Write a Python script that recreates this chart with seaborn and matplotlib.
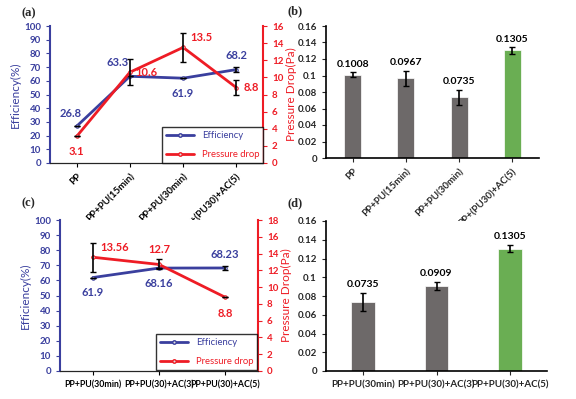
import numpy as np
import pandas as pd
import matplotlib
matplotlib.use("Agg")
import matplotlib.pyplot as plt
import seaborn as sns
from matplotlib.lines import Line2D

# ---- data ----
cats_a = ["PP", "PP+PU(15min)", "PP+PU(30min)", "PP+(PU30)+AC(5)"]
eff_a = [26.8, 63.3, 61.9, 68.2]
eff_err_a = [0.0, 0.0, 0.0, 1.8]
dp_a = [3.1, 10.6, 13.5, 8.8]
dp_err_a = [0.0, 1.5, 1.7, 0.9]

cats_b = ["PP", "PP+PU(15min)", "PP+PU(30min)", "PP+(PU30)+AC(5)"]
val_b = [0.1008, 0.0967, 0.0735, 0.1305]
err_b = [0.003, 0.009, 0.0095, 0.004]

cats_c = ["PP+PU(30min)", "PP+PU(30)+AC(3)", "PP+PU(30)+AC(5)"]
eff_c = [61.9, 68.16, 68.23]
eff_err_c = [0.0, 0.0, 1.5]
dp_c = [13.56, 12.7, 8.8]
dp_err_c = [1.7, 0.6, 0.0]

cats_d = ["PP+PU(30min)", "PP+PU(30)+AC(3)", "PP+PU(30)+AC(5)"]
val_d = [0.0735, 0.0909, 0.1305]
err_d = [0.0095, 0.004, 0.004]

BLUE = "#3a3f9e"
RED = "#ee1c25"
GRAY = "#6e6868"
GREEN = "#62bd44"

sns.set_style("white")
plt.rcParams["font.family"] = ["Lato", "DejaVu Sans"]
plt.rcParams["font.weight"] = "bold"

W, H = 576, 399
fig = plt.figure(figsize=(W / 100, H / 100), dpi=100)


def box(l, t, r, b):
    return [l / W, 1 - b / H, (r - l) / W, (b - t) / H]


def line_panel(ax, cats, eff, eff_err, dp, dp_err, dp_max, eff_lbl, dp_lbl, rotate, legend_box):
    x = np.arange(len(cats))
    ax2 = ax.twinx()
    sns.lineplot(x=x, y=eff, ax=ax, color=BLUE, lw=2, marker="o", ms=2.5,
                 mfc="#dddddd", mec=BLUE, zorder=3)
    sns.lineplot(x=x, y=dp, ax=ax2, color=RED, lw=2, marker="o", ms=2.5,
                 mfc="#dddddd", mec=RED, zorder=3)
    ax.errorbar(x, eff, yerr=eff_err, fmt="none", ecolor="black", capsize=2.5, lw=1.2, zorder=4)
    ax2.errorbar(x, dp, yerr=dp_err, fmt="none", ecolor="black", capsize=2.5, lw=1.2, zorder=4)

    ax.set_xlim(-0.5, len(cats) - 0.5)
    ax.set_ylim(0, 100)
    ax.set_yticks(range(0, 101, 10))
    ax2.set_ylim(0, dp_max)
    ax2.set_yticks(range(0, dp_max + 1, 2))
    ax.set_xticks(x)
    if rotate:
        ax.set_xticklabels(cats, rotation=45, ha="right", rotation_mode="anchor", fontsize=7)
    else:
        ax.set_xticklabels(cats, fontsize=6.3)
    ax.tick_params(axis="y", colors=BLUE, labelsize=7, length=3, direction="out", left=True)
    ax2.tick_params(axis="y", colors=RED, labelsize=7, length=3, direction="out", right=True)
    ax.tick_params(axis="x", colors="black", length=3, direction="out", bottom=True)
    ax.set_ylabel("Efficiency(%)", color=BLUE, fontsize=8.5, fontweight="normal", labelpad=2)
    ax2.set_ylabel("Pressure Drop(Pa)", color=RED, fontsize=8.5, fontweight="normal", labelpad=2)
    for a in (ax, ax2):
        a.spines["top"].set_visible(False)
    ax.spines["left"].set_color(BLUE)
    ax2.spines["left"].set_visible(False)
    ax2.spines["right"].set_color(RED)
    ax2.spines["right"].set_linewidth(1.5)
    ax.spines["left"].set_linewidth(1.5)
    ax.spines["right"].set_visible(False)
    ax.spines["bottom"].set_color("black")
    ax.grid(False)
    ax2.grid(False)

    for i, (dx, dy, ha, va) in enumerate(eff_lbl):
        ax.annotate(f"{eff[i]:g}", (x[i], eff[i]),
                    xytext=(dx, dy), textcoords="offset points", ha=ha, va=va,
                    color=BLUE, fontsize=8)
    for i, (dx, dy, ha, va) in enumerate(dp_lbl):
        ax2.annotate(f"{dp[i]:g}", (x[i], dp[i]), xytext=(dx, dy),
                     textcoords="offset points", ha=ha, va=va, color=RED, fontsize=8)

    handles = [Line2D([], [], color=BLUE, lw=2, marker="o", ms=2.5, mfc="#dddddd"),
               Line2D([], [], color=RED, lw=2, marker="o", ms=2.5, mfc="#dddddd")]
    leg = ax2.legend(handles, ["Efficiency", "Pressure drop"], loc="lower right",
                     bbox_to_anchor=legend_box, fontsize=6.8, frameon=True,
                     fancybox=False, edgecolor="black", handlelength=3,
                     borderaxespad=0, labelspacing=1.1)
    leg.get_frame().set_linewidth(1.0)
    for t, c in zip(leg.get_texts(), [BLUE, RED]):
        t.set_color(c)
        t.set_fontweight("normal")


def bar_panel(ax, cats, vals, errs, rotate):
    df = pd.DataFrame({"cat": cats, "val": vals})
    colors = [GRAY] * (len(cats) - 1) + [GREEN]
    sns.barplot(data=df, x="cat", y="val", hue="cat", palette=colors, legend=False,
                ax=ax, width=0.32, edgecolor="white", linewidth=0.5)
    x = np.arange(len(cats))
    ax.errorbar(x, vals, yerr=errs, fmt="none", ecolor="black", capsize=2.5, lw=1.2)
    for i in range(len(cats)):
        ax.text(x[i], vals[i] + errs[i] + 0.004, f"{vals[i]:.4f}".rstrip("0"),
                ha="center", va="bottom", fontsize=7.5, color="black")
    ax.set_xlim(-0.5, len(cats) - 0.5)
    ax.set_ylim(0, 0.16)
    ax.set_yticks(np.arange(0, 0.161, 0.02))
    ax.set_yticklabels(["0", "0.02", "0.04", "0.06", "0.08", "0.1", "0.12", "0.14", "0.16"])
    if rotate:
        ax.set_xticklabels(cats, rotation=45, ha="right", rotation_mode="anchor", fontsize=7)
    else:
        ax.set_xticklabels(cats, fontsize=6.8)
    ax.set_xlabel("")
    ax.set_ylabel("")
    ax.tick_params(axis="both", labelsize=7, length=3, direction="out", left=True, bottom=True)
    sns.despine(ax=ax)
    for s in ("left", "bottom"):
        ax.spines[s].set_color("black")
        ax.spines[s].set_linewidth(1.2)


# (a)
ax_a = fig.add_axes(box(50, 26, 263, 163))
line_panel(ax_a, cats_a, eff_a, eff_err_a, dp_a, dp_err_a, 16,
           eff_lbl=[(-4, 5, "center", "bottom"), (-9, 6, "center", "bottom"),
                    (0, -7, "center", "top"), (0, 6, "center", "bottom")],
           dp_lbl=[(0, -7, "center", "top"), (4, 0, "left", "center"),
                   (5, 3, "left", "bottom"), (5, 0, "left", "center")],
           rotate=True, legend_box=(1.0, 0.0))

# (b)
ax_b = fig.add_axes(box(326, 26, 539, 158))
bar_panel(ax_b, cats_b, val_b, err_b, rotate=True)

# (c)
ax_c = fig.add_axes(box(60, 220, 258, 371))
line_panel(ax_c, cats_c, eff_c, eff_err_c, dp_c, dp_err_c, 18,
           eff_lbl=[(0, -7, "center", "top"), (0, -7, "center", "top"),
                    (0, 6, "center", "bottom")],
           dp_lbl=[(5, 3, "left", "bottom"), (0, 7, "center", "bottom"),
                   (0, -8, "center", "top")],
           rotate=False, legend_box=(0.995, 0.005))

# (d)
ax_d = fig.add_axes(box(326, 221, 547, 371))
bar_panel(ax_d, cats_d, val_d, err_d, rotate=False)

for lbl, (px, py) in zip(["(a)", "(b)", "(c)", "(d)"],
                         [(22, 13), (288, 11), (22, 203), (288, 203)]):
    fig.text(px / W, 1 - py / H, lbl, family=["Liberation Serif", "DejaVu Serif"],
             fontweight="bold", fontsize=9, ha="left", va="center")

fig.savefig("out.png", dpi=100)
